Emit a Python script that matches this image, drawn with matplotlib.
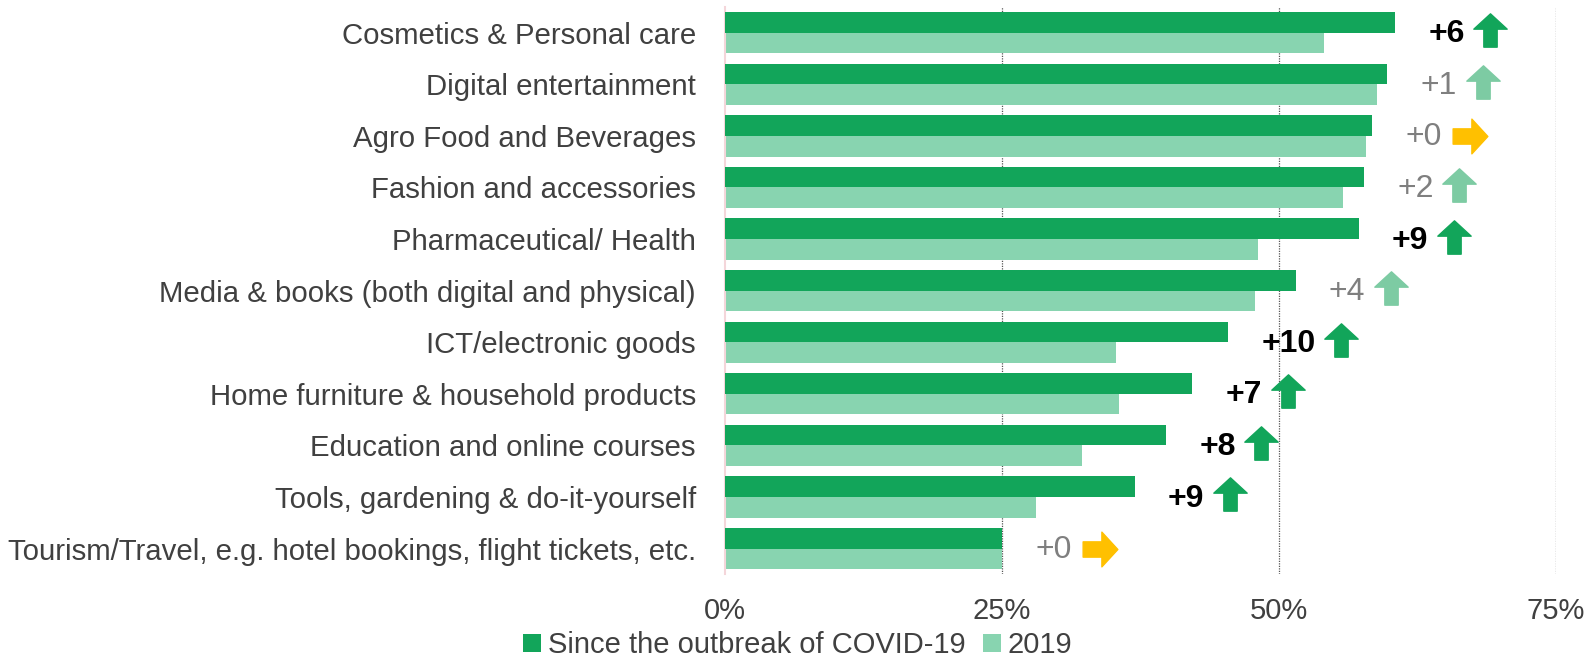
import numpy as np
import matplotlib.pyplot as plt
from matplotlib.path import Path

plt.rcParams['font.family'] = ['Liberation Sans', 'DejaVu Sans']

categories = ['Cosmetics & Personal care', 'Digital entertainment', 'Agro Food and Beverages',
              'Fashion and accessories', 'Pharmaceutical/ Health',
              'Media & books (both digital and physical)', 'ICT/electronic goods',
              'Home furniture & household products', 'Education and online courses',
              'Tools, gardening & do-it-yourself',
              'Tourism/Travel, e.g. hotel bookings, flight tickets, etc.']
covid = [60.5, 59.8, 58.4, 57.7, 57.2, 51.5, 45.4, 42.2, 39.8, 37.0, 25.0]
y2019 = [54.1, 58.9, 57.9, 55.8, 48.1, 47.8, 35.3, 35.6, 32.2, 28.1, 25.0]
change = ['+6', '+1', '+0', '+2', '+9', '+4', '+10', '+7', '+8', '+9', '+0']
signif = [True, False, False, False, True, False, True, True, True, True, False]

dark = '#12A55A'
light = '#88D4B0'
light_arrow = '#7DCBA3'
orange = '#FFC000'
txt = '#404040'

up_arrow = Path([(-0.5, 0.04), (0, 0.5), (0.5, 0.04), (0.2, 0.04), (0.2, -0.5),
                 (-0.2, -0.5), (-0.2, 0.04), (-0.5, 0.04)], closed=True)
right_arrow = Path([(0.04, 0.5), (0.5, 0), (0.04, -0.5), (0.04, -0.22), (-0.5, -0.22),
                    (-0.5, 0.22), (0.04, 0.22), (0.04, 0.5)], closed=True)

fig = plt.figure(figsize=(15.86, 6.61), dpi=100)
ax = fig.add_axes([0.4571, 0.131, 0.5239, 0.8585])

y = np.arange(len(categories))
h = 0.4
b1 = ax.barh(y - h / 2, covid, height=h, color=dark, label='Since the outbreak of COVID-19', zorder=3)
b2 = ax.barh(y + h / 2, y2019, height=h, color=light, label='2019', zorder=2)

ax.set_ylim(len(categories) - 0.5, -0.5)
ax.set_xlim(0, 75)
ax.set_yticks(y)
ax.set_yticklabels(categories, fontsize=21.2, color=txt)
ax.set_xticks([0, 25, 50, 75])
ax.set_xticklabels(['0%', '25%', '50%', '75%'], fontsize=21, color=txt)
ax.tick_params(axis='y', length=0, pad=21)
ax.tick_params(axis='x', length=0, pad=16)
for s in ['top', 'right', 'bottom']:
    ax.spines[s].set_visible(False)
ax.spines['left'].set_color('#F4D6DA')
ax.spines['left'].set_linewidth(1.5)
for gx in [25, 50, 75]:
    ax.axvline(gx, color='#555555', linestyle=(0, (1, 1)), linewidth=0.9, zorder=1)

fig.canvas.draw()
r = fig.canvas.get_renderer()
inv = ax.transData.inverted()
for i in range(len(categories)):
    if signif[i]:
        t = ax.text(covid[i] + 3.0, y[i] + 0.03, change[i], fontsize=23, fontweight='bold',
                    color='black', ha='left', va='center')
    else:
        t = ax.text(covid[i] + 3.0, y[i] + 0.03, change[i], fontsize=23,
                    color='#7F7F7F', ha='left', va='center')
    bb = t.get_window_extent(r)
    xend = inv.transform((bb.x1, bb.y0))[0]
    if change[i] == '+0':
        ax.plot(xend + 2.6, y[i], marker=right_arrow, markersize=25, color=orange,
                linestyle='none')
    else:
        col = dark if signif[i] else light_arrow
        ax.plot(xend + 2.3, y[i] - 0.05, marker=up_arrow, markersize=24, color=col,
                linestyle='none')

fig.legend(handles=[b1, b2], loc='lower center', bbox_to_anchor=(0.503, -0.037), ncol=2,
           frameon=False, fontsize=21, handlelength=0.6, handleheight=0.6,
           handletextpad=0.25, columnspacing=0.6, labelcolor=txt)

fig.savefig('out.png', dpi=100)
